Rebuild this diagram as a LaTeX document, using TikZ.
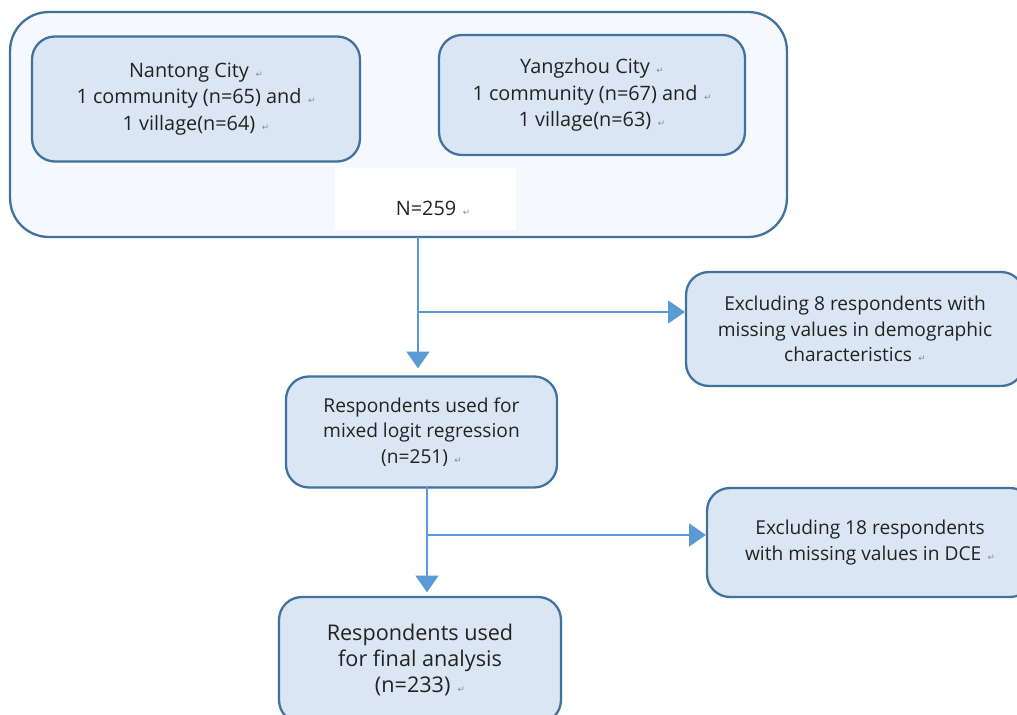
\documentclass[tikz,border=0pt]{standalone}
\usepackage{fontspec}
\setmainfont{Open Sans}
\newfontfamily\dejavu{DejaVu Sans}
\usepackage{tikz}
\usetikzlibrary{arrows.meta,positioning,calc}
\usepackage{xcolor}

\definecolor{boxline}{HTML}{41719C}
\definecolor{boxfill}{HTML}{DAE6F3}
\definecolor{outerfill}{HTML}{F5F9FD}
\definecolor{flowline}{HTML}{5B9BD5}
\definecolor{ink}{HTML}{222222}

% Word paragraph mark
\newcommand{\pmark}{\,\,{\dejavu\fontsize{5}{5}\selectfont\textcolor{black!45}{↵}}}

\begin{document}
\begin{tikzpicture}[x=0.02cm, y=-0.02cm,
    stage/.style={draw=boxline, line width=1.3pt, fill=boxfill, rounded corners=13pt,
        align=center, text=ink, inner sep=0pt, font=\fontsize{10.9}{14.5}\selectfont},
    flow/.style={draw=flowline, line width=0.9pt, -{Triangle[width=13pt, length=9.5pt]}}]

    % Picture area
    \clip (0,0) rectangle (1017,715);
    \fill[white] (0,0) rectangle (1017,715);

    % Sampling region
    \node[stage, fill=outerfill, rounded corners=22pt, minimum width=15.54cm, minimum height=4.5cm]
        (region) at (398.5,124.5) {};
    \node[stage, minimum width=6.56cm, minimum height=2.5cm, font=\fontsize{11.3}{15}\selectfont]
        (nantong) at (196,99) {Nantong City\pmark\\1 community (n=65) and\pmark\\1 village(n=64)\pmark};
    \node[stage, minimum width=6.12cm, minimum height=2.4cm, font=\fontsize{11.3}{15}\selectfont]
        (yangzhou) at (592,95) {Yangzhou City\pmark\\1 community (n=67) and\pmark\\1 village(n=63)\pmark};

    % Total sample
    \node[fill=white, inner sep=0pt, minimum width=3.62cm, minimum height=1.24cm] (total) at (425.5,199) {};
    \node[text=ink, font=\fontsize{11.3}{15}\selectfont] (totaltext) at (433,208) {N=259\pmark};

    % Later stages
    \node[stage, minimum width=6.76cm, minimum height=2.28cm] (excl1) at (855,329)
        {Excluding 8 respondents with\\missing values in demographic\\characteristics\pmark};
    \node[stage, minimum width=5.42cm, minimum height=2.22cm] (mixed) at (421.5,432)
        {Respondents used for\\mixed logit regression\\(n=251)\pmark};
    \node[stage, minimum width=6.52cm, minimum height=2.18cm] (excl2) at (870,542.5)
        {Excluding 18 respondents\\with missing values in DCE\pmark};
    \node[stage, minimum width=5.64cm, minimum height=2.52cm, font=\fontsize{12.3}{15}\selectfont]
        (final) at (420,660) {Respondents used\\for final analysis\\(n=233)\pmark};

    % Flow with exclusions
    \coordinate (top1) at (418,237);
    \coordinate (b1) at (418,312);
    \draw[flow, shorten >=4pt] (top1) -- (top1 |- mixed.north);
    \draw[flow] (b1) -- (b1 -| excl1.west);

    \coordinate (top2) at (427,486);
    \coordinate (b2) at (427,535);
    \draw[flow, shorten >=2pt] (top2) -- (top2 |- final.north);
    \draw[flow] (b2) -- (b2 -| excl2.west);
\end{tikzpicture}
\end{document}
